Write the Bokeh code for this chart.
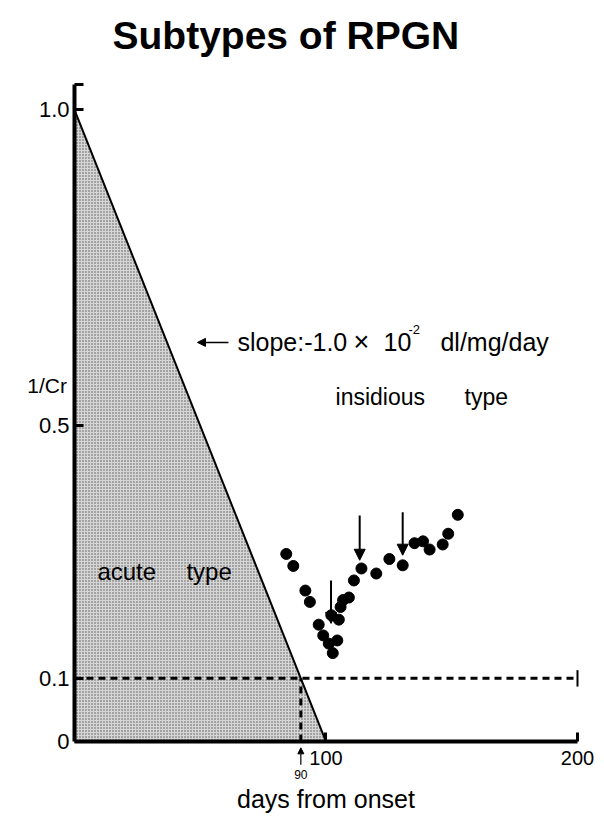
from bokeh.plotting import figure
from bokeh.models import (Range1d, FixedTicker, Label, Arrow, NormalHead,
                          ColumnDataSource)
from bokeh.embed import file_html
from bokeh.resources import INLINE

FONT = "Liberation Sans"

# ---- data ----
days = [84.2, 87.0, 91.8, 93.6, 97.1, 98.9, 101.1, 102.7, 104.5, 102.1,
        105.1, 105.8, 106.8, 109.1, 111.1, 114.1, 120.0, 125.2, 130.5,
        135.2, 138.6, 141.2, 146.4, 148.6, 152.4]
inv_cr = [0.297, 0.278, 0.239, 0.221, 0.185, 0.168, 0.155, 0.140, 0.160,
          0.200, 0.193, 0.213, 0.224, 0.228, 0.255, 0.274, 0.266, 0.289,
          0.279, 0.314, 0.317, 0.304, 0.312, 0.329, 0.359]

acute_x = [0, 0, 100]
acute_y = [1.0, 0, 0]
slope_x = [0, 100]
slope_y = [1.0, 0]
threshold = 0.1
threshold_day = 90
x_end = 200
y_top = 1.04
x_ticks = [100, 200]
y_ticks = [0, 0.1, 0.5, 1.0, y_top]
y_tick_labels = {0: "0", 0.1: "0.1", 0.5: "0.5", 1.0: "1.0", y_top: ""}

arrow_days = [102.0, 113.4, 130.5]
arrow_tail = [0.255, 0.358, 0.363]
arrow_tip = [0.187, 0.287, 0.295]

p = figure(width=604, height=825, output_backend="svg", toolbar_location=None,
           x_range=Range1d(-29.42, 210.74), y_range=Range1d(-0.133, 1.0657),
           min_border=0, min_border_top=68)
p.outline_line_color = None
p.grid.visible = False
p.background_fill_color = "white"
p.border_fill_color = "white"

# title
p.title.text = "Subtypes of RPGN"
p.title.text_font = FONT
p.title.text_font_size = "39px"
p.title.text_font_style = "bold"
p.title.align = "left"
p.title.vertical_align = "top"
p.title.offset = 112
p.title.standoff = 20
p.title.text_color = "black"

# axes drawn at the data origin
xa = p.xaxis[0]
ya = p.yaxis[0]
xa.fixed_location = 0
ya.fixed_location = 0
xa.bounds = (0, x_end)
ya.bounds = (0, y_top)
for ax in (xa, ya):
    ax.axis_line_width = 4
    ax.axis_line_color = "black"
    ax.major_tick_in = 9
    ax.major_tick_out = 0
    ax.major_tick_line_width = 3
    ax.minor_tick_line_color = None
    ax.major_label_text_font = FONT
    ax.major_label_text_color = "black"

xa.ticker = FixedTicker(ticks=x_ticks)
xa.major_label_text_font_size = "20px"
xa.major_label_standoff = 9
xa.axis_label = "days from onset"
xa.axis_label_text_font = FONT
xa.axis_label_text_font_size = "25px"
xa.axis_label_text_font_style = "normal"
xa.axis_label_text_color = "black"
xa.axis_label_standoff = 17

ya.ticker = FixedTicker(ticks=y_ticks)
ya.major_label_text_font_size = "22px"
ya.major_label_standoff = 5
ya.major_label_overrides = y_tick_labels

# acute-type shaded triangle (stippled)
p.patch(acute_x, acute_y, fill_color="#d6d6d6", line_color=None,
        hatch_pattern="dot", hatch_color="#555555", hatch_scale=3,
        hatch_weight=1.2)
p.line(slope_x, slope_y, line_color="black", line_width=2)

# threshold dashed lines
p.line([0, x_end], [threshold, threshold], line_color="black",
       line_width=3, line_dash="7 5")
p.line([threshold_day, threshold_day], [0, threshold], line_color="black",
       line_width=3, line_dash="7 5")
p.line([x_end, x_end], [threshold - 0.013, threshold + 0.013],
       line_color="black", line_width=2)

# patient data
p.scatter(days, inv_cr, size=11, color="black")

arrows = ColumnDataSource(dict(x0=arrow_days, y0=arrow_tail,
                               x1=arrow_days, y1=arrow_tip))
p.add_layout(Arrow(end=NormalHead(size=11, fill_color="black",
                                  line_color="black"),
                   x_start="x0", y_start="y0", x_end="x1", y_end="y1",
                   source=arrows, line_width=2, line_color="black"))

# slope annotation
p.add_layout(Arrow(end=NormalHead(size=8, fill_color="black",
                                  line_color="black"),
                   x_start=61.2, y_start=0.632, x_end=48.9, y_end=0.632,
                   line_width=1.5, line_color="black"))


def lab(x, y, text, size, align="left", baseline="middle"):
    p.add_layout(Label(x=x, y=y, text=text, text_font=FONT,
                       text_font_size=size, text_align=align,
                       text_baseline=baseline, text_color="black"))


lab(64.8, 0.632, "slope:-1.0", "25px")
lab(110.9, 0.632, "\u00d7", "27px")
lab(122.9, 0.632, "10", "25px")
lab(132.8, 0.653, "-2", "13px")
lab(145.5, 0.632, "dl/mg/day", "25px")

lab(103.8, 0.545, "insidious", "23px")
lab(155.1, 0.545, "type", "23px")

lab(9.1, 0.269, "acute", "24px")
lab(44.5, 0.269, "type", "24px")

lab(-3.0, 0.564, "1/Cr", "21px", align="right")

# day-90 marker under the axis
p.add_layout(Arrow(end=NormalHead(size=6, fill_color="black",
                                  line_color="black"),
                   x_start=threshold_day, y_start=-0.037,
                   x_end=threshold_day, y_end=-0.010,
                   line_width=1.2, line_color="black"))
lab(threshold_day, -0.052, "90", "12px", align="center")

open("out.html", "w").write(file_html(p, INLINE))
